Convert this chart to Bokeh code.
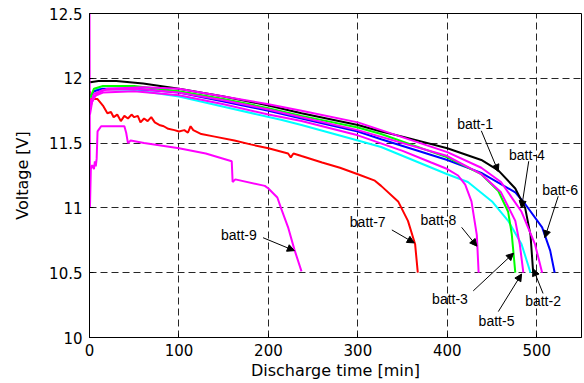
from bokeh.plotting import figure
from bokeh.models import (Arrow, NormalHead, ColumnDataSource, FixedTicker,
                          CustomJSTickFormatter, Range1d)
from bokeh.core.properties import value
from bokeh.embed import file_html
from bokeh.resources import INLINE

# ---------------- data ----------------
x_ticks = [0, 100, 200, 300, 400, 500]
y_ticks = [10, 10.5, 11, 11.5, 12, 12.5]

t_b1 = [1, 10, 30, 60, 100, 150, 200, 237, 300, 326, 350, 400, 438, 457, 476, 487, 493, 496]
v_b1 = [11.97, 11.98, 11.98, 11.96, 11.92, 11.86, 11.79, 11.73, 11.64, 11.59, 11.55, 11.46, 11.37, 11.29, 11.15, 11.0, 10.79, 10.5]

t_b2 = [0.5, 3, 8, 20, 60, 100, 150, 200, 237, 300, 326, 400, 438, 460, 483, 498, 506]
v_b2 = [11.72, 11.82, 11.88, 11.92, 11.93, 11.92, 11.86, 11.80, 11.75, 11.66, 11.60, 11.43, 11.31, 11.2, 10.97, 10.72, 10.5]

t_b3 = [1, 5, 15, 50, 100, 150, 200, 237, 300, 326, 400, 438, 457, 468, 472, 476]
v_b3 = [11.85, 11.92, 11.94, 11.94, 11.90, 11.84, 11.77, 11.71, 11.62, 11.57, 11.39, 11.26, 11.13, 10.97, 10.8, 10.5]

t_b4 = [1, 5, 10, 50, 100, 150, 214, 237, 300, 326, 400, 423, 450, 468, 483, 493]
v_b4 = [11.85, 11.90, 11.92, 11.91, 11.86, 11.78, 11.68, 11.64, 11.52, 11.47, 11.26, 11.2, 11.05, 10.9, 10.72, 10.5]

t_b5 = [1, 5, 15, 50, 100, 150, 200, 237, 300, 400, 438, 460, 476, 481, 485]
v_b5 = [11.80, 11.88, 11.91, 11.92, 11.89, 11.83, 11.76, 11.70, 11.60, 11.40, 11.26, 11.12, 10.9, 10.72, 10.5]

t_b6 = [1, 5, 15, 50, 100, 150, 200, 237, 300, 326, 400, 438, 476, 487, 506, 515, 520]
v_b6 = [11.86, 11.90, 11.92, 11.92, 11.89, 11.82, 11.75, 11.69, 11.59, 11.53, 11.37, 11.27, 11.12, 11.03, 10.85, 10.67, 10.5]

t_b7 = [0, 0.5, 2, 9, 15, 20, 24, 27, 31, 35, 39, 43, 47, 50, 54, 57, 61, 65, 69, 73, 78, 83,
        88, 95, 100, 106, 110, 113, 116, 125, 140, 162, 180, 200, 222, 225, 228, 237, 260, 280,
        300, 319, 326, 345, 356, 364, 367]
v_b7 = [11.78, 11.90, 11.84, 11.84, 11.79, 11.73, 11.74, 11.70, 11.72, 11.67, 11.71, 11.69, 11.72,
        11.70, 11.71, 11.66, 11.69, 11.67, 11.70, 11.66, 11.64, 11.63, 11.61, 11.60, 11.59, 11.60,
        11.58, 11.63, 11.60, 11.57, 11.55, 11.52, 11.49, 11.46, 11.42, 11.39, 11.42, 11.40, 11.35,
        11.31, 11.26, 11.21, 11.17, 11.05, 10.9, 10.72, 10.5]

t_b8 = [1, 5, 15, 50, 100, 150, 200, 237, 300, 350, 382, 400, 412, 420, 427, 433, 435]
v_b8 = [11.78, 11.86, 11.89, 11.90, 11.87, 11.80, 11.72, 11.67, 11.56, 11.44, 11.35, 11.30, 11.25, 11.18, 11.05, 10.79, 10.5]

t_b9 = [0, 0.5, 1.5, 3, 5, 6, 7, 8, 9, 13, 39, 41, 43, 46, 61, 100, 130, 159, 160, 163, 196,
        200, 210, 214, 222, 229, 237]
v_b9 = [12.5, 11.0, 11.3, 11.33, 11.30, 11.36, 11.32, 11.38, 11.59, 11.63, 11.63, 11.58, 11.50,
        11.52, 11.50, 11.46, 11.42, 11.36, 11.20, 11.22, 11.17, 11.15, 11.08, 11.0, 10.85, 10.68, 10.51]

label_text = ["batt-1", "batt-4", "batt-6", "batt-8", "batt-7", "batt-9", "batt-3", "batt-5", "batt-2"]
label_x = [431, 489, 526, 390, 311, 167, 403, 455, 507]
label_y = [11.646, 11.41, 11.14, 10.91, 10.89, 10.79, 10.30, 10.13, 10.28]
arrow_x0 = [438, 491, 524, 416, 338, 194, 429, 457, 507]
arrow_y0 = [11.595, 11.36, 11.09, 10.85, 10.83, 10.77, 10.36, 10.20, 10.34]
arrow_x1 = [457, 483, 509, 433, 363, 229, 474, 483, 496]
arrow_y1 = [11.28, 11.0, 10.77, 10.705, 10.73, 10.67, 10.65, 10.49, 10.53]

series = [
    (t_b7, v_b7, "#ff0000"),
    (t_b9, v_b9, "#ff00ff"),
    (t_b4, v_b4, "#00ffff"),
    (t_b6, v_b6, "#0000ff"),
    (t_b3, v_b3, "#00ff00"),
    (t_b1, v_b1, "#000000"),
    (t_b8, v_b8, "#ff00ff"),
    (t_b5, v_b5, "#ff00ff"),
    (t_b2, v_b2, "#ff00ff"),
]

# ---------------- figure ----------------
p = figure(width=584, height=383, output_backend="svg", toolbar_location=None,
           x_range=Range1d(0, 550), y_range=Range1d(10, 12.5),
           min_border_left=89, min_border_right=3, min_border_top=13, min_border_bottom=46)

p.background_fill_color = "white"
p.border_fill_color = "white"
p.outline_line_color = "black"
p.outline_line_width = 1

for ax in (p.xaxis[0], p.yaxis[0]):
    ax.axis_line_color = "black"
    ax.major_tick_in = 4
    ax.major_tick_out = 0
    ax.minor_tick_line_color = None
    ax.major_label_text_font = "DejaVu Sans"
    ax.major_label_text_font_size = "15px"
    ax.major_label_text_color = "black"
    ax.axis_label_text_font = "DejaVu Sans"
    ax.axis_label_text_font_size = "16px"
    ax.axis_label_text_font_style = "normal"
    ax.axis_label_text_color = "black"

p.xaxis.ticker = FixedTicker(ticks=x_ticks)
p.yaxis.ticker = FixedTicker(ticks=y_ticks)
p.xaxis.formatter = CustomJSTickFormatter(code="return tick.toString();")
p.yaxis.formatter = CustomJSTickFormatter(code="return tick.toString();")
p.xaxis.axis_label = "Discharge time [min]"
p.yaxis.axis_label = "Voltage [V]"
p.xaxis.major_label_standoff = 6
p.xaxis.axis_label_standoff = 2
p.yaxis.major_label_standoff = 7
p.yaxis.axis_label_standoff = 14

for g in (p.xgrid[0], p.ygrid[0]):
    g.grid_line_color = "black"
    g.grid_line_dash = "7 4"
    g.grid_line_width = 1
    g.grid_line_alpha = 0.85

for t, v, c in series:
    p.line(t, v, line_color=c, line_width=2)

arrow_src = ColumnDataSource(dict(x0=arrow_x0, y0=arrow_y0, x1=arrow_x1, y1=arrow_y1))
p.add_layout(Arrow(end=NormalHead(size=7, fill_color="black", line_color="black", line_width=1),
                   x_start="x0", y_start="y0", x_end="x1", y_end="y1",
                   source=arrow_src, line_color="black", line_width=1))

p.text(x=label_x, y=label_y, text=label_text, text_font=value("Liberation Sans"),
       text_font_size="14px", text_align="center", text_baseline="middle", text_color="black")

open("out.html", "w").write(file_html(p, INLINE))
